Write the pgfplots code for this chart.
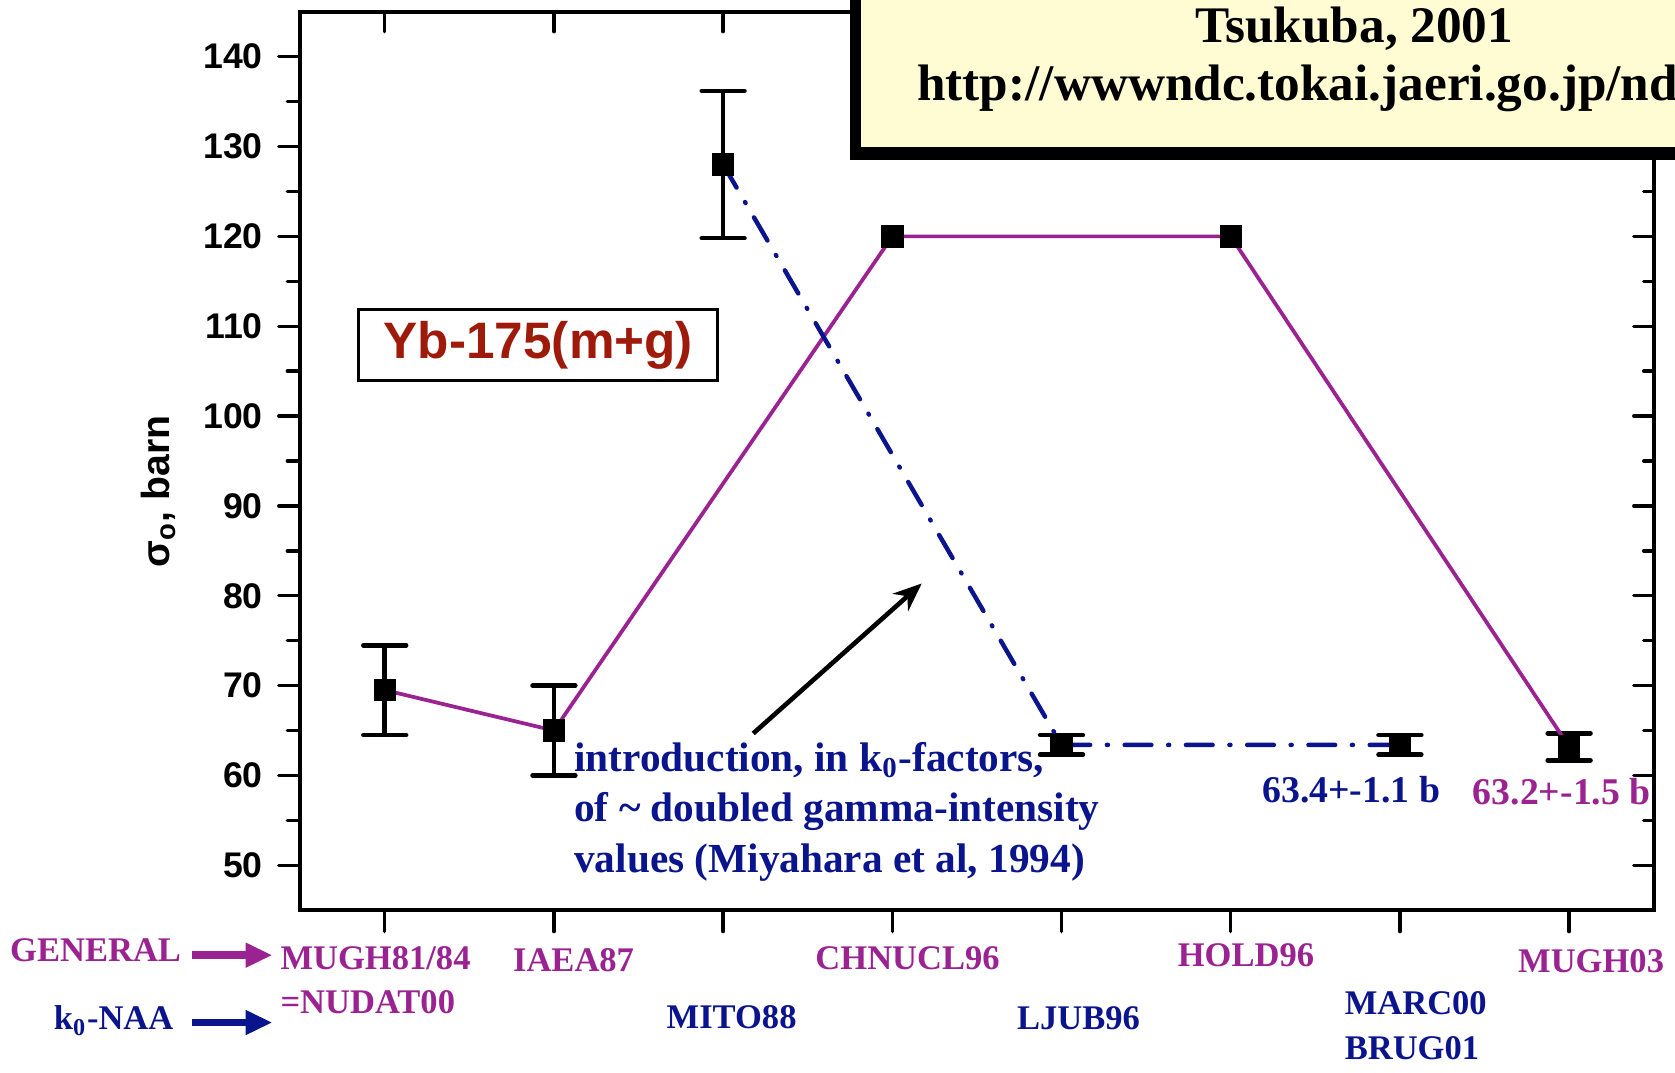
\documentclass[border=0pt]{standalone}
\usepackage{pgfplots}
\pgfplotsset{compat=1.18}
\usepackage{fontspec}
\setmainfont{Liberation Serif}
\setsansfont{Liberation Sans}
\usetikzlibrary{arrows.meta}
\definecolor{mag}{RGB}{155,34,145}
\definecolor{dblue}{RGB}{10,20,140}
\definecolor{dred}{RGB}{158,26,10}
\definecolor{cream}{RGB}{255,252,212}
\newcommand{\cat}{\bfseries\fontsize{9.7}{11}\selectfont}
\begin{document}
\begin{tikzpicture}
\begin{axis}[
  scale only axis, width=380.1pt, height=252.3pt,
  xmin=-0.5, xmax=7.5, ymin=45, ymax=145,
  axis x line*=bottom, axis y line*=left,
  axis line style={line width=1.2pt, line cap=rect},
  xtick={0,...,7}, xticklabels={},
  ytick={50,60,...,140}, minor ytick={55,65,...,135},
  tick align=outside,
  major tick length=6pt, minor tick length=3.6pt,
  tick style={line width=0.95pt, black, line cap=round},
  yticklabel style={font=\sffamily\bfseries\fontsize{10}{12}\selectfont, xshift=-1pt},
  /pgf/number format/assume math mode=true,
  clip=false,
]
% error bars and markers
\addplot[only marks, mark=square*, mark size=3pt, black, mark options={line width=0.3pt},
  error bars/.cd, y dir=both, y explicit,
  error bar style={line width=1.3pt, black},
  error mark options={rotate=90, line width=1.3pt, mark size=6pt, black, line cap=round}]
  coordinates {(0,69.5) +- (0,5) (1,65) +- (0,5) (2,128) +- (0,8.2) (4,63.4) +- (0,1.1) (6,63.4) +- (0,1.1) (7,63.2) +- (0,1.5)};
\addplot[only marks, mark=square*, mark size=3pt, black, mark options={line width=0.3pt}]
  coordinates {(3,120) (5,120)};
% GENERAL line
\addplot[mag, line width=1.05pt, mark=none] coordinates {(0,69.5) (1,65) (3,120) (5,120) (7,63.2)};
% k0-NAA line
\addplot[dblue, line width=1.25pt, mark=none, line cap=round, dash pattern=on 7.5pt off 4.7pt on 0.3pt off 4.7pt]
  coordinates {(2,128) (4,63.4) (6,63.4)};

% y label
\node[rotate=90, font=\sffamily\bfseries\fontsize{11}{13}\selectfont] at (axis cs:-1.34,91.6) {σ\textsubscript{o}, barn};

% title box
\node[draw=black, line width=0.8pt, fill=white, minimum width=100.8pt, minimum height=19.8pt, inner sep=0pt,
  text=dred, font=\sffamily\bfseries\fontsize{14.4}{16}\selectfont] at (axis cs:0.908,107.9) {Yb-175(m+g)};

% annotation
\begin{scope}[dblue, font=\bfseries\fontsize{11.6}{14}\selectfont]
\node[anchor=base west, inner sep=0pt] at (axis cs:1.116,60.46) {introduction, in k\textsubscript{0}-factors,};
\node[anchor=base west, inner sep=0pt] at (axis cs:1.116,54.87) {of \textasciitilde{} doubled gamma-intensity};
\node[anchor=base west, inner sep=0pt] at (axis cs:1.116,49.16) {values (Miyahara et al, 1994)};
\end{scope}
\draw[black, line width=1.3pt, -{Stealth[length=8pt,width=6.5pt]}] (axis cs:2.178,64.68) -- (axis cs:3.174,81.37);

% value labels
\node[anchor=base west, inner sep=0pt, dblue, font=\bfseries\fontsize{10.6}{12}\selectfont] at (axis cs:5.183,57.0) {63.4+-1.1 b};
\node[anchor=base west, inner sep=0pt, mag, font=\bfseries\fontsize{10.6}{12}\selectfont] at (axis cs:6.427,56.77) {63.2+-1.5 b};

% category labels
\begin{scope}[font=\cat]
\node[anchor=base west, inner sep=0pt, mag] at (axis cs:-0.62,38.46) {MUGH81/84};
\node[anchor=base west, inner sep=0pt, mag] at (axis cs:-0.62,33.47) {=NUDAT00};
\node[anchor=base, inner sep=0pt, mag] at (axis cs:1.116,38.22) {IAEA87};
\node[anchor=base, inner sep=0pt, mag] at (axis cs:3.09,38.46) {CHNUCL96};
\node[anchor=base, inner sep=0pt, mag] at (axis cs:5.09,38.70) {HOLD96};
\node[anchor=base, inner sep=0pt, mag] at (axis cs:7.13,38.10) {MUGH03};
\node[anchor=base, inner sep=0pt, dblue] at (axis cs:2.05,31.80) {MITO88};
\node[anchor=base, inner sep=0pt, dblue] at (axis cs:4.10,31.68) {LJUB96};
\node[anchor=base west, inner sep=0pt, dblue] at (axis cs:5.67,33.35) {MARC00};
\node[anchor=base west, inner sep=0pt, dblue] at (axis cs:5.67,28.35) {BRUG01};
\node[anchor=base east, inner sep=0pt, mag] at (axis cs:-1.20,39.29) {GENERAL};
\node[anchor=base east, inner sep=0pt, dblue] at (axis cs:-1.245,31.68) {k\textsubscript{0}-NAA};
\end{scope}
\draw[mag, line width=2.2pt, -{Triangle[length=7.5pt,width=6.5pt]}] (axis cs:-1.138,40.0) -- (axis cs:-0.664,40.0);
\draw[dblue, line width=2.2pt, -{Triangle[length=7.5pt,width=6.5pt]}] (axis cs:-1.138,32.5) -- (axis cs:-0.664,32.5);

% coordinates for box and bounding box
\coordinate (oBL) at (axis cs:2.752,128.47);
\coordinate (iBL) at (axis cs:2.815,129.90);
\coordinate (bTR) at (axis cs:8.3,150);
\coordinate (tsu) at (axis cs:5.732,141.55);
\coordinate (url) at (axis cs:3.143,135.13);
\coordinate (pbl) at (axis cs:-2.274,26.93);
\coordinate (ptr) at (axis cs:7.626,146.31);
\end{axis}
\begin{axis}[
  scale only axis, width=380.1pt, height=252.3pt,
  xmin=-0.5, xmax=7.5, ymin=45, ymax=145,
  axis x line*=top, axis y line*=right,
  axis line style={line width=1.2pt, line cap=rect},
  xtick={0,...,7}, xticklabels={},
  ytick={50,60,...,140}, yticklabels={}, minor ytick={55,65,...,135},
  tick align=inside,
  major tick length=5.6pt, minor tick length=2.8pt,
  tick style={line width=0.95pt, black, line cap=round},
]
\addplot[draw=none, mark=none] coordinates {(0,50) (1,60)};
\end{axis}
\fill[black] (oBL) rectangle (bTR);
\fill[cream] (iBL) rectangle (bTR);
\node[anchor=base, inner sep=0pt, font=\bfseries\fontsize{14.4}{16}\selectfont] at (tsu) {Tsukuba, 2001};
\node[anchor=base west, inner sep=0pt, font=\bfseries\fontsize{14.4}{16}\selectfont] at (url) {http://wwwndc.tokai.jaeri.go.jp/nd};
\pgfresetboundingbox
\path[use as bounding box] (pbl) rectangle (ptr);
\end{tikzpicture}
\end{document}
